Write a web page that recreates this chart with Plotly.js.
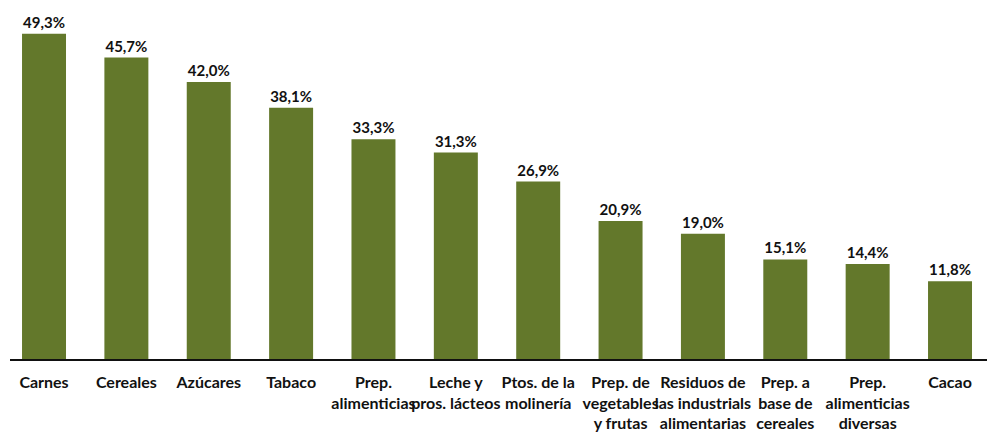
<!DOCTYPE html>
<html>
<head>
<meta charset="utf-8">
<script src="https://cdn.plot.ly/plotly-3.0.1.min.js"></script>
<style>html,body{margin:0;padding:0;background:#fff;}#chart{width:987px;height:436px;}</style>
</head>
<body>
<div id="chart"></div>
<script>
const categories = ["Carnes", "Cereales", "Azúcares", "Tabaco", "Prep.<br>alimenticias", "Leche y<br>pros. lácteos", "Ptos. de la<br>molinería", "Prep. de<br>vegetables<br>y frutas", "Residuos de<br>las industrials<br>alimentarias", "Prep. a<br>base de<br>cereales", "Prep.<br>alimenticias<br>diversas", "Cacao"];
const values = [49.3, 45.7, 42.0, 38.1, 33.3, 31.3, 26.9, 20.9, 19.0, 15.1, 14.4, 11.8];
const valueLabels = values.map(v => v.toFixed(1).replace('.', ',') + '%');
const idx = categories.map((c, i) => i);

const trace = {
  type: 'bar',
  x: idx,
  y: values,
  text: valueLabels,
  textposition: 'outside',
  cliponaxis: false,
  textfont: {family: 'Lato, sans-serif', size: 15, color: '#111', weight: 700},
  marker: {color: '#63782B'},
  width: 0.534,
  hoverinfo: 'none'
};

const layout = {
  width: 987, height: 436,
  margin: {l: 10, r: 0, t: 10, b: 77},
  paper_bgcolor: '#fff', plot_bgcolor: '#fff',
  showlegend: false,
  xaxis: {
    range: [-0.413, 11.449],
    tickmode: 'array', tickvals: idx, ticktext: categories,
    tickangle: 0, automargin: false,
    showline: true, linecolor: '#111', linewidth: 1.5,
    showgrid: false, zeroline: false,
    ticks: '', ticklabelstandoff: 8,
    tickfont: {family: 'Lato, sans-serif', size: 16, color: '#111', weight: 700},
    fixedrange: true
  },
  yaxis: {
    range: [0, 52.9],
    visible: false, showgrid: false, zeroline: false, fixedrange: true
  }
};

Plotly.newPlot('chart', [trace], layout, {displayModeBar: false, staticPlot: true});
</script>
</body>
</html>
